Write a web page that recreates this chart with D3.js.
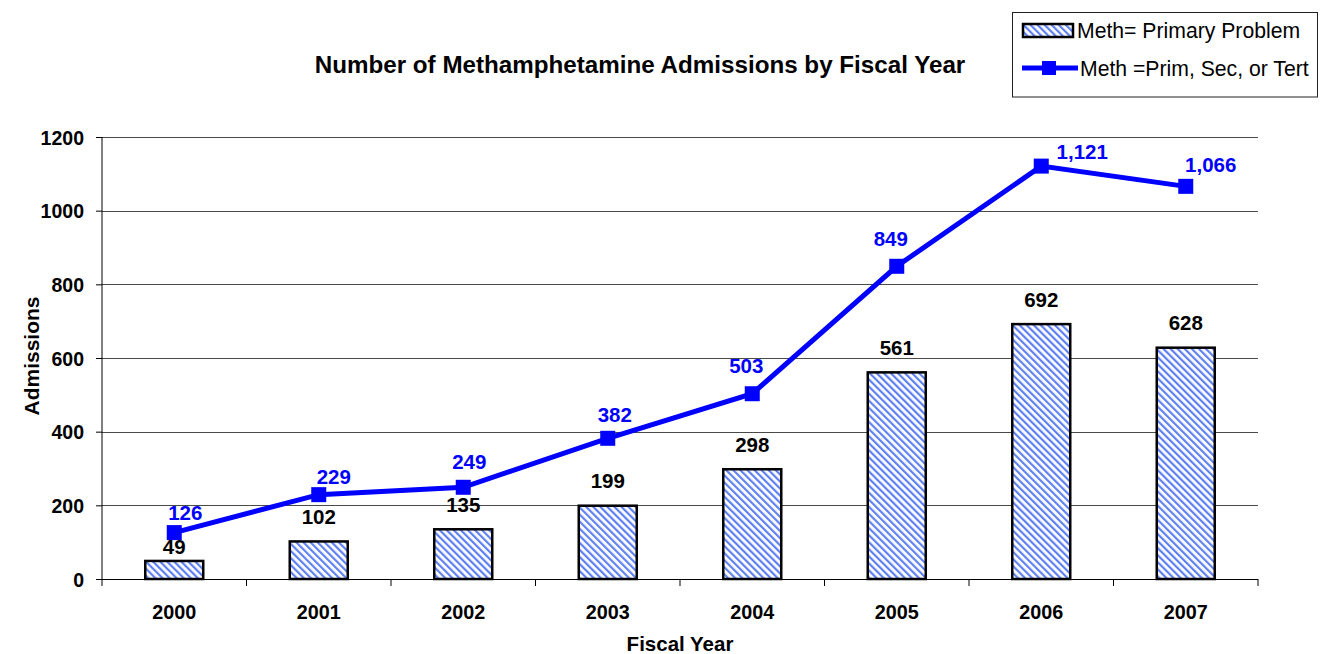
<!DOCTYPE html>
<html><head><meta charset="utf-8">
<script src="https://cdn.jsdelivr.net/npm/d3@7"></script>
<style>body{margin:0;background:#fff;font-family:Arial,"Liberation Sans",sans-serif}</style>
</head><body>
<svg id="c" width="1320" height="654" font-family="Arial,'Liberation Sans',sans-serif"></svg>
<script>
const years = ["2000","2001","2002","2003","2004","2005","2006","2007"];
const primary = [49,102,135,199,298,561,692,628];
const anyMention = [126,229,249,382,503,849,1121,1066];
const yTicks = [0,200,400,600,800,1000,1200];
// label nudges (layout only): [dx, dy] relative to marker centre
const lineLabelNudge = [[11,-13],[15,-11],[6,-18],[7,-16],[-6,-21],[-6,-20],[41,-7],[25,-14]];

const svg = d3.select("#c");
const m = {l:102, r:1258, t:137, b:579};
const x = d3.scaleBand().domain(years).range([m.l, m.r]).paddingInner(0).paddingOuter(0);
const y = d3.scaleLinear().domain([0,1200]).range([m.b, m.t]);
const cx = d => x(d) + x.bandwidth()/2;
const fmt = d3.format(",");

const defs = svg.append("defs");
const pat = defs.append("pattern").attr("id","hatch").attr("patternUnits","userSpaceOnUse")
  .attr("width",5).attr("height",5).attr("patternTransform","rotate(-45)");
pat.append("rect").attr("width",5).attr("height",5).attr("fill","#fff");
pat.append("rect").attr("x",0).attr("width",2.2).attr("height",5).attr("fill","#5f80f2");

// gridlines
svg.append("g").selectAll("line").data(yTicks.filter(d=>d>0)).join("line")
  .attr("x1",m.l).attr("x2",m.r).attr("y1",d=>Math.round(y(d))+0.5).attr("y2",d=>Math.round(y(d))+0.5)
  .attr("stroke","#4a4a4a").attr("stroke-width",1);

// y axis
const ya = svg.append("g").attr("transform",`translate(${m.l},0)`)
  .call(d3.axisLeft(y).tickValues(yTicks).tickSize(6).tickPadding(12).tickFormat(d3.format("d")));
ya.attr("font-size",null).attr("font-family",null);
ya.selectAll("text").attr("font-size",19.5).attr("font-weight","bold").attr("fill","#000").attr("dy","0.36em");
ya.select(".domain").attr("stroke","#000").attr("d",`M0,${m.t}V${m.b}`);
ya.selectAll(".tick line").attr("stroke","#000");

// x axis
const xa = svg.append("g").attr("transform",`translate(0,${m.b})`);
xa.append("line").attr("x1",m.l).attr("x2",m.r).attr("y1",0.5).attr("y2",0.5).attr("stroke","#000");
const bounds = d3.range(years.length+1).map(i=>m.l + i*x.bandwidth());
xa.selectAll("line.t").data(bounds).join("line").attr("class","t")
  .attr("x1",d=>d).attr("x2",d=>d).attr("y1",0).attr("y2",7).attr("stroke","#000");
xa.selectAll("text").data(years).join("text")
  .attr("x",d=>cx(d)).attr("y",40).attr("text-anchor","middle")
  .attr("font-size",19.8).attr("font-weight","bold").text(d=>d);

// bars
const bw = 58;
svg.append("g").selectAll("rect").data(years).join("rect")
  .attr("x",d=>cx(d)-bw/2).attr("width",bw)
  .attr("y",(d,i)=>y(primary[i])).attr("height",(d,i)=>y(0)-y(primary[i]))
  .attr("fill","url(#hatch)").attr("stroke","#000").attr("stroke-width",2.5);

// bar labels
svg.append("g").selectAll("text").data(years).join("text")
  .attr("x",d=>cx(d)).attr("y",(d,i)=>y(primary[i]) - (i===0?7:17.5))
  .attr("text-anchor","middle").attr("font-size",20.5).attr("font-weight","bold").attr("fill","#000")
  .text((d,i)=>fmt(primary[i]));

// line
const line = d3.line().x((d,i)=>cx(years[i])).y(d=>y(d));
svg.append("path").datum(anyMention).attr("d",line).attr("fill","none").attr("stroke","#0000ff").attr("stroke-width",5);
svg.append("g").selectAll("rect").data(anyMention).join("rect")
  .attr("x",(d,i)=>cx(years[i])-7.5).attr("y",d=>y(d)-7.5).attr("width",15).attr("height",15).attr("fill","#0000ff");
svg.append("g").selectAll("text").data(anyMention).join("text")
  .attr("x",(d,i)=>cx(years[i]) + lineLabelNudge[i][0]).attr("y",(d,i)=>y(d) + lineLabelNudge[i][1])
  .attr("text-anchor","middle").attr("font-size",20.5).attr("font-weight","bold").attr("fill","#0000ff")
  .text(d=>fmt(d));

// title
svg.append("text").attr("x",640).attr("y",73).attr("text-anchor","middle")
  .attr("font-size",24.2).attr("font-weight","bold").text("Number of Methamphetamine Admissions by Fiscal Year");
// axis titles
svg.append("text").attr("x",680).attr("y",651).attr("text-anchor","middle")
  .attr("font-size",20.5).attr("font-weight","bold").text("Fiscal Year");
svg.append("text").attr("transform","translate(39,356) rotate(-90)").attr("text-anchor","middle")
  .attr("font-size",21).attr("font-weight","bold").text("Admissions");

// legend
const lg = svg.append("g");
lg.append("rect").attr("x",1012.5).attr("y",12.5).attr("width",305).attr("height",84.5).attr("fill","#fff").attr("stroke","#222");
lg.append("rect").attr("x",1023).attr("y",24).attr("width",50).attr("height",13).attr("fill","url(#hatch)").attr("stroke","#000").attr("stroke-width",2.5);
lg.append("text").attr("x",1077).attr("y",38).attr("font-size",21.2).text("Meth= Primary Problem");
lg.append("line").attr("x1",1022).attr("x2",1078).attr("y1",68).attr("y2",68).attr("stroke","#0000ff").attr("stroke-width",5);
lg.append("rect").attr("x",1042).attr("y",61).attr("width",14).attr("height",14).attr("fill","#0000ff");
lg.append("text").attr("x",1080).attr("y",76).attr("font-size",21.2).text("Meth =Prim, Sec, or Tert");
</script>
</body></html>
